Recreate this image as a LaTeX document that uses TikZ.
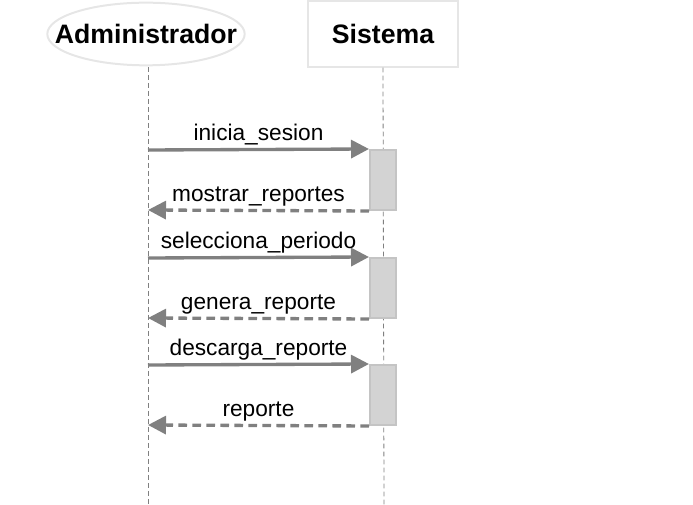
\documentclass[tikz,border=0pt]{standalone}
\usepackage{fontspec}
\setmainfont{Liberation Sans}
\usetikzlibrary{shapes.geometric, arrows.meta}
\definecolor{linegray}{HTML}{808080}
\definecolor{edgegray}{HTML}{E6E6E6}
\definecolor{actfill}{HTML}{D3D3D3}
\definecolor{actdraw}{HTML}{C4C4C4}
\tikzstyle{actor} = [ellipse, minimum width=148pt, minimum height=47pt, inner xsep=-16pt, inner ysep=0pt, draw=edgegray, line width=1.5pt, font=\fontsize{20}{24}\selectfont\bfseries]
\tikzstyle{object} = [rectangle, minimum width=112pt, minimum height=49pt, inner sep=0pt, draw=edgegray, line width=1.5pt, font=\fontsize{20}{24}\selectfont\bfseries]
\tikzstyle{lifeline} = [linegray, line width=0.6pt, dash pattern=on 3.5pt off 2.5pt]
\tikzstyle{activation} = [rectangle, minimum width=19.5pt, minimum height=45pt, inner sep=0pt, fill=actfill, draw=actdraw, line width=1.5pt]
\tikzstyle{call} = [linegray, line width=2.5pt, -{Triangle[length=13.5pt, width=13.5pt]}]
\tikzstyle{reply} = [call, dash pattern=on 6.5pt off 4pt]
\tikzstyle{msg} = [midway, above=-1.5pt, font=\fontsize{17}{20}\selectfont, text=black]

\begin{document}
\begin{tikzpicture}[x=0.75pt, y=0.75pt, yscale=-1]
\useasboundingbox (0,0) rectangle (693,505);

\node at (146, 34) (admin) [actor] {Administrador};
\node at (383, 34) (sistema) [object] {Sistema};

\coordinate (adminEnd) at (148, 505);
\coordinate (sistemaEnd) at (384, 505);
\draw [lifeline] (148, 67) -- (adminEnd);
\draw [lifeline] (sistema.south) -- (sistemaEnd);

\node at (383, 180) (act1) [activation] {};
\node at (383, 288) (act2) [activation] {};
\node at (383, 395) (act3) [activation] {};

\coordinate (call1) at (148, 150);
\coordinate (back1) at (148, 210);
\coordinate (call2) at (148, 258);
\coordinate (back2) at (148, 318);
\coordinate (call3) at (148, 365);
\coordinate (back3) at (148, 425);

\draw [call] (call1) -- (act1.north west) node [msg] {inicia\_sesion};
\draw [reply] (act1.south west) -- (back1) node [msg] {mostrar\_reportes};
\draw [call] (call2) -- (act2.north west) node [msg] {selecciona\_periodo};
\draw [reply] (act2.south west) -- (back2) node [msg] {genera\_reporte};
\draw [call] (call3) -- (act3.north west) node [msg] {descarga\_reporte};
\draw [reply] (act3.south west) -- (back3) node [msg] {reporte};

\end{tikzpicture}
\end{document}
